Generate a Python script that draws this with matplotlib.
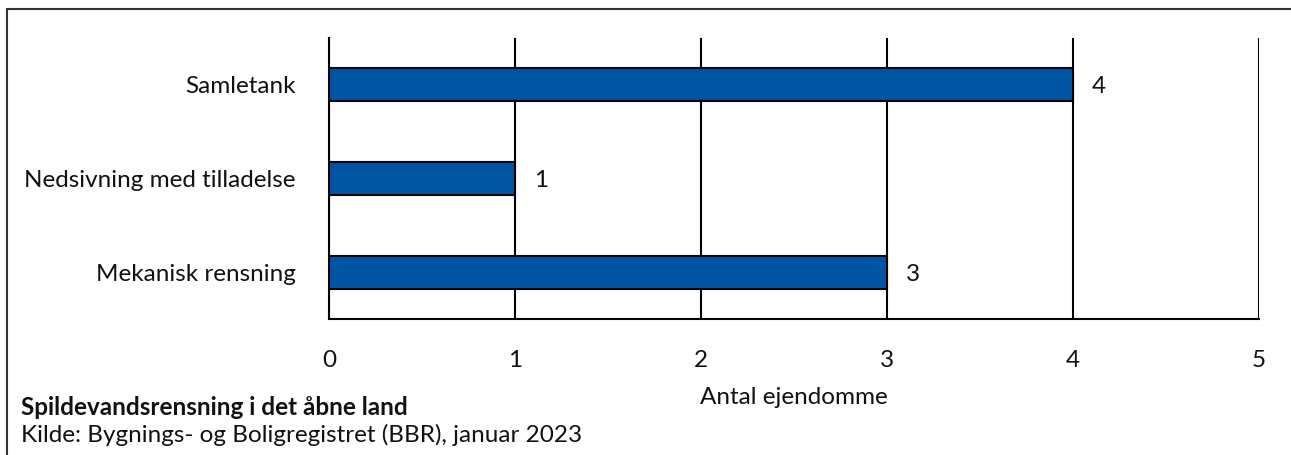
import matplotlib.pyplot as plt
from matplotlib.patches import Rectangle

plt.rcParams["font.family"] = ["Lato", "DejaVu Sans"]

categories = ["Mekanisk rensning", "Nedsivning med tilladelse", "Samletank"]
values = [3, 1, 4]
x_ticks = [0, 1, 2, 3, 4, 5]

BAR_COLOR = "#0054A4"
TEXT_COLOR = "#111111"
FS = 17.5

W, H = 1291, 455
fig = plt.figure(figsize=(W / 100, H / 100), dpi=100)
ax = fig.add_axes([329 / W, 1 - 319 / H, (1259 - 329) / W, (319 - 38) / H])

ax.barh(categories, values, height=0.35, color=BAR_COLOR, edgecolor="black",
        linewidth=1.5, zorder=3)
for i, v in enumerate(values):
    ax.text(v + 0.1, i, str(v), va="center_baseline", ha="left", fontsize=FS,
            color=TEXT_COLOR)

ax.set_xlim(0, 5)
ax.set_ylim(-0.5, 2.5)
ax.set_xticks(x_ticks)
ax.grid(axis="x", color="black", linewidth=1.5, zorder=0)
ax.tick_params(axis="both", length=0, labelsize=FS, colors=TEXT_COLOR)
ax.tick_params(axis="x", pad=22)
ax.tick_params(axis="y", pad=24)
for s in ["top", "right"]:
    ax.spines[s].set_visible(False)
ax.spines["left"].set_linewidth(1.5)
ax.spines["bottom"].set_linewidth(1.5)
ax.set_xlabel("Antal ejendomme", fontsize=FS, color=TEXT_COLOR, labelpad=12)

fig.text(21 / W, 1 - 415 / H, "Spildevandsrensning i det åbne land", fontsize=FS,
         fontweight="bold", va="baseline", ha="left", color=TEXT_COLOR)
fig.text(21 / W, 1 - 442 / H, "Kilde: Bygnings- og Boligregistret (BBR), januar 2023",
         fontsize=FS, va="baseline", ha="left", color=TEXT_COLOR)

# outer frame (right and bottom edges run off the picture)
fig.patches.append(Rectangle((7 / W, -0.01), 1.0, 1 - 9 / H + 0.01,
                             transform=fig.transFigure, fill=False,
                             edgecolor="#333333", linewidth=1.5))

fig.savefig("out.png", dpi=100)
